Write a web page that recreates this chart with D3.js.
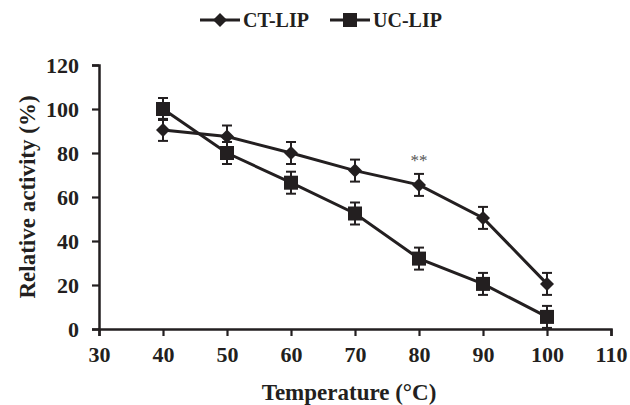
<!DOCTYPE html>
<html><head><meta charset="utf-8">
<script src="https://cdn.jsdelivr.net/npm/d3@7"></script>
<style>
html,body{margin:0;padding:0;background:#fff;}
svg{display:block;}
svg text{font-family:"Liberation Serif","Times New Roman",serif;font-weight:bold;}
svg .tick text{font-size:22px;font-weight:bold;}
svg text.sig{font-weight:normal;}
</style></head>
<body>
<svg id="chart" width="630" height="405"></svg>
<script>
const temperatures = [40, 50, 60, 70, 80, 90, 100];
const ctLip = [90.5, 87.5, 80, 72, 65.5, 50.5, 20.5];
const ctErr = [5, 5, 5, 5, 5, 5, 5];
const ucLip = [100, 80, 66.5, 52.5, 32, 20.5, 5.5];
const ucErr = [5, 5, 5, 5, 5, 5, 5];
const xTicks = [30, 40, 50, 60, 70, 80, 90, 100, 110];
const yTicks = [0, 20, 40, 60, 80, 100, 120];
const seriesNames = ["CT-LIP", "UC-LIP"];

const ink = "#231f20";
const serif = '"Liberation Serif","Times New Roman",serif';
const svg = d3.select("#chart");
const m = {l: 99, r: 611, t: 65, b: 329};
const x = d3.scaleLinear().domain([30, 110]).range([m.l, m.r]);
const y = d3.scaleLinear().domain([0, 120]).range([m.b, m.t]);

const yAxis = svg.append("g").attr("transform", `translate(${m.l},0)`)
  .call(d3.axisLeft(y).tickValues(yTicks).tickSize(7).tickPadding(13));
const xAxis = svg.append("g").attr("transform", `translate(0,${m.b})`)
  .call(d3.axisBottom(x).tickValues(xTicks).tickSize(7).tickPadding(10));
[yAxis, xAxis].forEach(a => {
  a.selectAll("path").attr("stroke", ink).attr("stroke-width", 2.5);
  a.selectAll("line").attr("stroke", ink).attr("stroke-width", 2.2);
  a.selectAll("text").attr("fill", ink)
    .style("font-family", serif).style("font-size", "22px").style("font-weight", "bold");
});

const line = d3.line().x(d => x(d.t)).y(d => y(d.v));
const series = [
  {name: seriesNames[0], vals: ctLip, err: ctErr, shape: "diamond"},
  {name: seriesNames[1], vals: ucLip, err: ucErr, shape: "square"}
];

function marker(g, shape, cx, cy) {
  if (shape === "square") {
    g.append("rect").attr("x", cx - 7).attr("y", cy - 7).attr("width", 14).attr("height", 14).attr("fill", ink);
  } else {
    const s = 7;
    g.append("path").attr("d", `M${cx},${cy - s}L${cx + s},${cy}L${cx},${cy + s}L${cx - s},${cy}Z`).attr("fill", ink);
  }
}

series.forEach(s => {
  const pts = temperatures.map((t, i) => ({t, v: s.vals[i], e: s.err[i]}));
  const g = svg.append("g");
  pts.forEach(p => {
    const cx = x(p.t);
    g.append("line").attr("x1", cx).attr("x2", cx).attr("y1", y(p.v + p.e)).attr("y2", y(p.v - p.e))
      .attr("stroke", ink).attr("stroke-width", 2);
    [p.v + p.e, p.v - p.e].forEach(v => {
      g.append("line").attr("x1", cx - 5).attr("x2", cx + 5).attr("y1", y(v)).attr("y2", y(v))
        .attr("stroke", ink).attr("stroke-width", 2);
    });
  });
  g.append("path").datum(pts).attr("d", line).attr("fill", "none")
    .attr("stroke", ink).attr("stroke-width", 3);
  pts.forEach(p => marker(g, s.shape, x(p.t), y(p.v)));
});

// significance marker
svg.append("text").attr("class", "sig").attr("x", x(80)).attr("y", y(ctLip[4] + ctErr[4]) - 8)
  .attr("text-anchor", "middle").style("font-size", "17px").attr("fill", "#555").text("**");

// legend
const leg = svg.append("g");
const legX = [200, 330];
series.forEach((s, i) => {
  const lx = legX[i], ly = 20;
  leg.append("line").attr("x1", lx).attr("x2", lx + 40).attr("y1", ly).attr("y2", ly)
    .attr("stroke", ink).attr("stroke-width", 3);
  marker(leg, s.shape, lx + 20, ly);
  leg.append("text").attr("x", lx + 43).attr("y", ly + 7).style("font-size", "20px")
    .attr("fill", ink).text(s.name);
});

// axis titles
svg.append("text").attr("x", 349).attr("y", 400).attr("text-anchor", "middle")
  .style("font-size", "23px").attr("fill", ink).text("Temperature (°C)");
svg.append("text").attr("transform", `translate(35,197) rotate(-90)`)
  .attr("text-anchor", "middle").style("font-size", "23px").attr("fill", ink)
  .text("Relative activity (%)");
</script>
</body></html>
